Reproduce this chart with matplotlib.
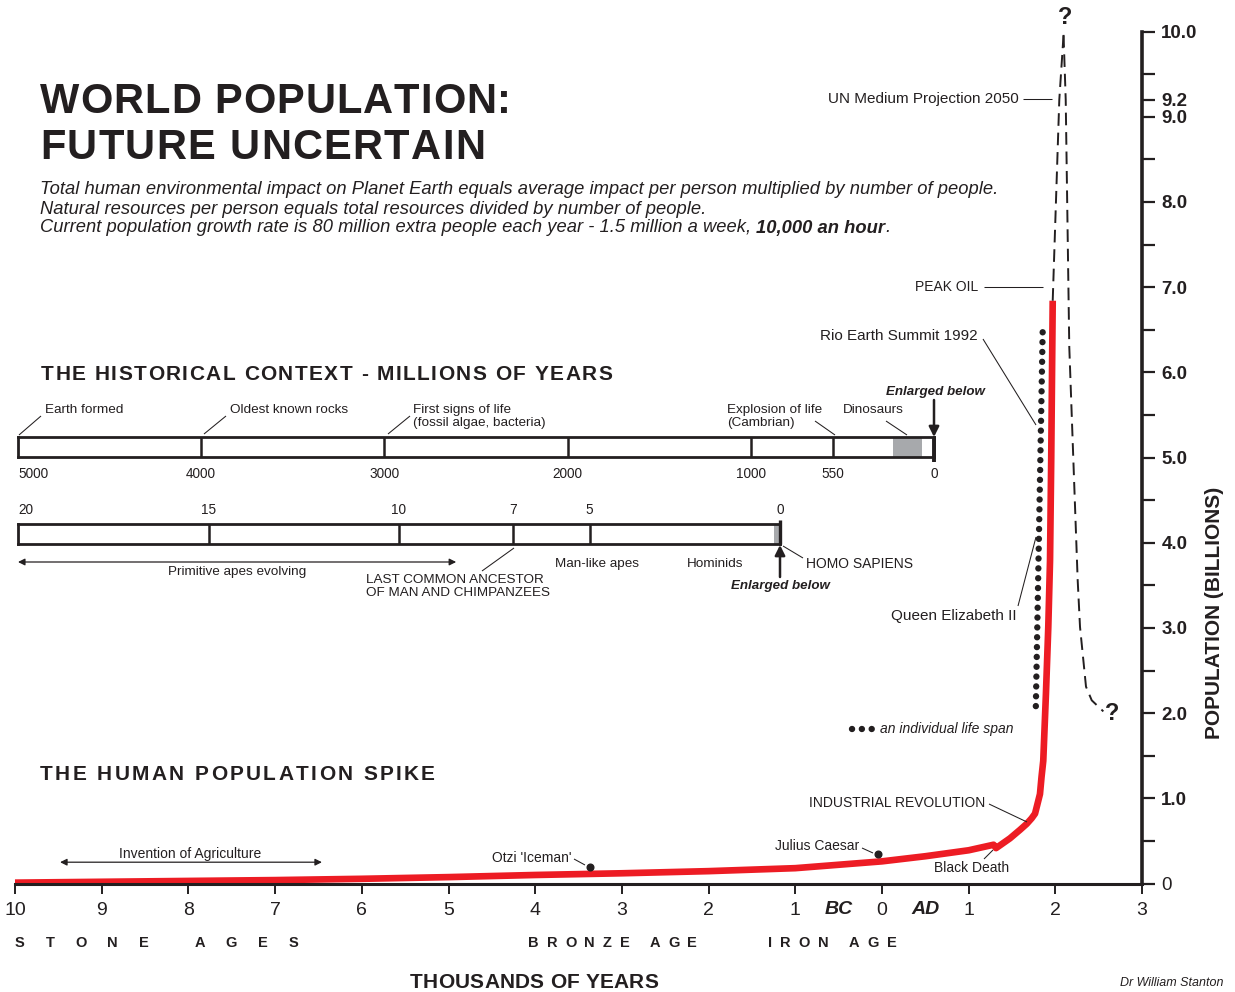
import matplotlib
matplotlib.use('Agg')
import matplotlib.pyplot as plt
from matplotlib.font_manager import FontProperties, findfont, get_font
from matplotlib.transforms import blended_transform_factory

# ---------------- data ----------------
# main chart: x in thousands of years (negative = BC), y in billions of people
pop_years = [-10.0, -9.0, -8.0, -7.0, -6.0, -5.0, -4.0, -3.0, -2.0, -1.0, 0.0, 0.5,
             1.0, 1.287, 1.315, 1.476, 1.592, 1.669, 1.726, 1.765, 1.79, 1.822,
             1.84, 1.86, 1.891, 1.918, 1.938, 1.952, 1.969]
pop_billions = [0.01, 0.02, 0.03, 0.04, 0.055, 0.075, 0.10, 0.12, 0.145, 0.18, 0.26, 0.32,
                0.39, 0.455, 0.415, 0.53, 0.63, 0.70, 0.765, 0.82, 0.92, 1.05,
                1.25, 1.44, 2.23, 3.01, 3.79, 5.0, 6.84]

proj_up_years = [1.969, 2.045, 2.094]
proj_up_pop = [6.84, 9.2, 9.96]
proj_down_years = [2.094, 2.119, 2.160, 2.257, 2.284, 2.353, 2.419, 2.553]
proj_down_pop = [9.96, 9.2, 6.30, 3.56, 3.01, 2.31, 2.15, 2.02]

lifespan_years = [1.853, 1.773]
lifespan_pop = [6.47, 2.0]

event_names = ["Otzi 'Iceman'", "Julius Caesar"]
event_years = [-3.37, -0.044]
event_pop = [0.19, 0.35]

agriculture_years = [-9.48, -6.46]
agriculture_pop = 0.25

x_ticks = [-10, -9, -8, -7, -6, -5, -4, -3, -2, -1, 0, 1, 2, 3]
x_tick_labels = ['10', '9', '8', '7', '6', '5', '4', '3', '2', '1', '0', '1', '2', '3']
y_ticks = [0, 0.5, 1, 1.5, 2, 2.5, 3, 3.5, 4, 4.5, 5, 5.5, 6, 6.5, 7, 7.5, 8, 8.5,
           9, 9.2, 9.5, 10]
y_tick_labels = ['0', '', '1.0', '', '2.0', '', '3.0', '', '4.0', '', '5.0', '', '6.0', '',
                 '7.0', '', '8.0', '', '9.0', '9.2', '', '10.0']
era_labels = ['BC', 'AD']
era_years = [-0.5, 0.5]

# historical context bars (millions of years ago)
deep_time_ticks = [5000, 4000, 3000, 2000, 1000, 550, 0]
deep_time_labels = ['5000', '4000', '3000', '2000', '1000', '550', '0']
dinosaur_span = [225, 65]
ape_ticks = [20, 15, 10, 7, 5, 0]
ape_labels = ['20', '15', '10', '7', '5', '0']
homo_span = [0.15, 0]
primitive_apes_span = [20, 8.5]

# ---------------- style ----------------
W, H, DPI = 1235, 992, 100
FONT = 'Liberation Sans'
INK = '#231f20'
RED = '#ed1c24'
GREY = '#a7a9ac'
plt.rcParams['font.family'] = [FONT, 'DejaVu Sans']
plt.rcParams['text.color'] = INK
plt.rcParams['xtick.color'] = INK
plt.rcParams['ytick.color'] = INK

fig = plt.figure(figsize=(W / DPI, H / DPI), dpi=DPI, facecolor='white')

# main axes mapped over whole figure
X0_PX, X_PER = 15.0, 86.7
Y0_PX, Y_PER = 883.5, 85.2
ax = fig.add_axes([0, 0, 1, 1], zorder=1)
ax.set_xlim(-10 - X0_PX / X_PER, -10 + (W - X0_PX) / X_PER)
ax.set_ylim(-(H - Y0_PX) / Y_PER, Y0_PX / Y_PER)
ax.patch.set_visible(False)
ax.spines['top'].set_visible(False)
ax.spines['left'].set_visible(False)
ax.spines['bottom'].set_position(('data', 0))
ax.spines['bottom'].set_bounds(-10, 3)
ax.spines['bottom'].set_linewidth(2.2)
ax.spines['right'].set_position(('data', 3))
ax.spines['right'].set_bounds(0, 10)
ax.spines['right'].set_linewidth(2.6)
for sp in ax.spines.values():
    sp.set_color(INK)
ax.yaxis.set_ticks_position('right')
ax.xaxis.set_ticks_position('bottom')
ax.set_xticks(x_ticks, x_tick_labels)
ax.set_yticks(y_ticks, y_tick_labels)
ax.tick_params(axis='x', direction='out', length=7, width=1.4, pad=6.5, labelsize=14)
ax.tick_params(axis='y', direction='out', length=9.5, width=1.6, pad=4.3, labelsize=13.5)
for tk in ax.yaxis.get_major_ticks():
    tk.label2.set_fontweight('normal' if tk.label2.get_text() == '0' else 'bold')

ax.plot(pop_years, pop_billions, color=RED, lw=4.8, solid_capstyle='butt',
        solid_joinstyle='round', zorder=2)
ax.plot(proj_up_years, proj_up_pop, color=INK, lw=1.4, ls=(0, (6.5, 3.5)), zorder=2)
ax.plot(proj_down_years, proj_down_pop, color=INK, lw=1.4, ls=(0, (6.5, 3.5)), zorder=2)
ax.plot(lifespan_years, lifespan_pop, color=INK, lw=4.6, ls=(0, (0.01, 1.53)),
        dash_capstyle='round', zorder=2)
ax.plot(event_years, event_pop, 'o', ms=4.8, color=INK, ls='none', zorder=3)
ax.annotate('', xy=(agriculture_years[1], agriculture_pop),
            xytext=(agriculture_years[0], agriculture_pop),
            arrowprops=dict(arrowstyle='<|-|>', lw=0.9, color=INK, mutation_scale=10,
                            shrinkA=0, shrinkB=0))

# ---------------- timeline bars ----------------
def timeline(left, right, top, bottom, xmax):
    a = fig.add_axes([left / W, 1 - bottom / H, (right - left) / W, (bottom - top) / H], zorder=2)
    a.set_xlim(xmax, 0)
    a.set_ylim(0, 1)
    a.set_yticks([])
    for sp in a.spines.values():
        sp.set_linewidth(2.0)
        sp.set_color(INK)
    return a

ax1 = timeline(18, 934, 437, 457, 5000)
ax1.axvspan(dinosaur_span[0], dinosaur_span[1], color=GREY, lw=0)
ax1.vlines(deep_time_ticks[1:-1], 0, 1, color=INK, lw=1.8)
ax1.vlines([deep_time_ticks[-1]], -0.25, 1, color=INK, lw=2.8, clip_on=False)
ax1.set_xticks(deep_time_ticks, deep_time_labels)
ax1.tick_params(axis='x', length=0, pad=7.5, labelsize=9.8)
ax1.get_xticklabels()[0].set_ha('left')

ax2 = timeline(18, 780, 524, 544, 20)
ax2.axvspan(homo_span[0], homo_span[1], color=GREY, lw=0)
ax2.vlines(ape_ticks[1:-1], 0, 1, color=INK, lw=1.8)
ax2.vlines([ape_ticks[-1]], 0, 1.2, color=INK, lw=2.4, clip_on=False)
ax2.xaxis.tick_top()
ax2.set_xticks(ape_ticks, ape_labels)
ax2.tick_params(axis='x', length=0, pad=5, labelsize=9.8)
ax2.get_xticklabels()[0].set_ha('left')
ax2.annotate('', xy=(primitive_apes_span[1], -0.9), xytext=(primitive_apes_span[0], -0.9),
             arrowprops=dict(arrowstyle='<|-|>', lw=0.9, color=INK, mutation_scale=10,
                             shrinkA=0, shrinkB=0), annotation_clip=False)

# ---------------- pixel overlay for texts ----------------
axp = fig.add_axes([0, 0, 1, 1], zorder=3)
axp.set_xlim(0, W)
axp.set_ylim(H, 0)
axp.axis('off')

renderer = fig.canvas.get_renderer()


def text_w(s, prop):
    w, h, d = renderer.get_text_width_height_descent(s, prop, ismath=False)
    return w


def advances(s, prop):
    try:
        font = get_font(findfont(prop))
        font.set_size(prop.get_size_in_points(), DPI)
        out = []
        for ch in s:
            g = font.load_char(ord(ch))
            out.append(g.linearHoriAdvance / 65536.0)
        return out
    except Exception:
        return [text_w(ch, prop) if ch != ' ' else text_w('a a', prop) - text_w('aa', prop)
                for ch in s]


def tracked(x, y_base, s, size, width, weight='bold', style='normal'):
    prop = FontProperties(family=FONT, size=size, weight=weight, style=style)
    adv = advances(s, prop)
    track = (width - sum(adv)) / max(len(s) - 1, 1)
    cx = x
    for ch, a in zip(s, adv):
        if ch != ' ':
            axp.text(cx, y_base, ch, fontproperties=prop, ha='left', va='baseline', color=INK)
        cx += a + track
    return cx


def T(x, y, s, size=10, ha='left', va='center', weight='normal', style='normal', **kw):
    return axp.text(x, y, s, fontsize=size, ha=ha, va=va, fontweight=weight,
                    fontstyle=style, color=INK, **kw)


def L(x0, y0, x1, y1, lw=0.75):
    axp.plot([x0, x1], [y0, y1], color=INK, lw=lw, solid_capstyle='butt')


# titles
tracked(40, 113, 'WORLD POPULATION:', 30, 471)
tracked(40, 159, 'FUTURE UNCERTAIN', 30, 445)
tracked(41, 379.5, 'THE HISTORICAL CONTEXT - MILLIONS OF YEARS', 15, 571)
tracked(40, 780.5, 'THE HUMAN POPULATION SPIKE', 15, 395)

# italic paragraph
line1 = 'Total human environmental impact on Planet Earth equals average impact per person multiplied by number of people.'
line2 = 'Natural resources per person equals total resources divided by number of people.'
line3a = 'Current population growth rate is 80 million extra people each year - 1.5 million a week,'
line3b = '10,000 an hour'
p12 = FontProperties(family=FONT, size=12, style='italic')
psize = 12 * 954 / text_w(line1, p12)
pit = FontProperties(family=FONT, size=psize, style='italic')
pbi = FontProperties(family=FONT, size=psize, style='italic', weight='bold')
axp.text(40, 194.5, line1, fontproperties=pit, va='baseline', color=INK)
axp.text(40, 213.5, line2, fontproperties=pit, va='baseline', color=INK)
axp.text(40, 232.5, line3a, fontproperties=pit, va='baseline', color=INK)
sp_w = text_w('a a', pit) - text_w('aa', pit)
x3 = 40 + text_w(line3a, pit) + sp_w
axp.text(x3, 232.5, line3b, fontproperties=pbi, va='baseline', color=INK)
axp.text(x3 + text_w(line3b, pbi) + 0.5, 232.5, '.', fontproperties=pit, va='baseline', color=INK)

# historical context labels
TS = 9.7
T(45, 410, 'Earth formed', TS); L(19, 435, 41, 416)
T(230, 410, 'Oldest known rocks', TS); L(204, 434, 226, 416)
T(413, 410, 'First signs of life', TS); T(413, 423, '(fossil algae, bacteria)', TS); L(388, 434, 410, 416)
T(727, 410, 'Explosion of life', TS); T(727, 423, '(Cambrian)', TS); L(815, 421, 835, 435)
T(843, 410, 'Dinosaurs', TS); L(886, 421, 907, 435)
T(935, 392, 'Enlarged below', 9.6, ha='center', weight='bold', style='italic')
axp.annotate('', xy=(934, 437), xytext=(934, 400),
             arrowprops=dict(arrowstyle='-|>', color=INK, lw=1.8, mutation_scale=15,
                             shrinkA=0, shrinkB=0))

T(237, 572, 'Primitive apes evolving', TS, ha='center')
T(366, 580, 'LAST COMMON ANCESTOR', TS); T(366, 593, 'OF MAN AND CHIMPANZEES', TS)
L(482, 571, 514, 548)
T(555, 564, 'Man-like apes', TS)
T(687, 564, 'Hominids', TS)
T(806, 564, 'HOMO SAPIENS', 10); L(783, 546, 803, 558)
axp.annotate('', xy=(780, 545), xytext=(780, 577),
             arrowprops=dict(arrowstyle='-|>', color=INK, lw=1.8, mutation_scale=15,
                             shrinkA=0, shrinkB=0))
T(780, 586, 'Enlarged below', 9.6, ha='center', weight='bold', style='italic')

# main chart labels
T(1019, 99, 'UN Medium Projection 2050', 11, ha='right'); L(1023, 99, 1052, 99)
T(978, 287, 'PEAK OIL', 10, ha='right'); L(984, 287, 1043, 287)
T(978, 336, 'Rio Earth Summit 1992', 11, ha='right'); L(983, 339, 1036, 425)
T(1017, 616, 'Queen Elizabeth II', 11, ha='right'); L(1018, 606, 1036, 537)
axp.plot([852, 872], [729, 729], color=INK, lw=4.6, ls=(0, (0.01, 1.53)), dash_capstyle='round')
T(880, 729, 'an individual life span', 10, style='italic')
T(985, 803, 'INDUSTRIAL REVOLUTION', 10, ha='right'); L(989, 804, 1027, 822)
T(859, 846, event_names[1], 10, ha='right'); L(862, 848, 873, 853)
T(934, 868, 'Black Death', 10); L(984, 859, 993, 850)
T(571, 858, event_names[0], 10, ha='right'); L(574, 859, 585, 865)
T(190, 854, 'Invention of Agriculture', 10, ha='center')
T(1065, 18, '?', 17, ha='center', weight='bold')
T(1112, 713, '?', 17, ha='center', weight='bold')

# era labels under axis
bt = blended_transform_factory(ax.transData, axp.transData)
for lab, xv in zip(era_labels, era_years):
    ax.text(xv, 909, lab, transform=bt, fontsize=14, fontweight='bold', fontstyle='italic',
            ha='center', va='center', color=INK)

tracked(15, 947, 'STONE AGES', 10.5, 283)
tracked(528, 947, 'BRONZE AGE', 10.5, 169)
tracked(768, 947, 'IRON AGE', 10.5, 129)
tracked(410, 988, 'THOUSANDS OF YEARS', 15, 248)

T(1215, 613, 'POPULATION (BILLIONS)', 15, ha='center', weight='bold', rotation=90)
T(1223, 983, 'Dr William Stanton', 9, ha='right', style='italic')

fig.savefig('out.png', dpi=DPI, facecolor='white')
